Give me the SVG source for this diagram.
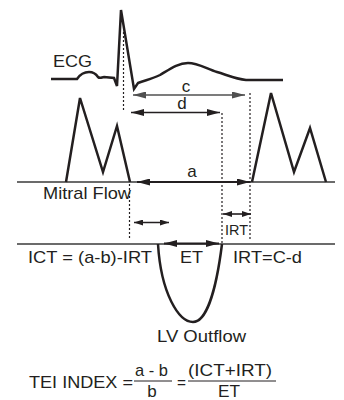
<svg xmlns="http://www.w3.org/2000/svg" width="344" height="400" viewBox="0 0 344 400">
<style>
text{font-family:"Liberation Sans",Arial,Helvetica,sans-serif;font-size:17px;fill:#231f20}
.wave{fill:none;stroke:#231f20;stroke-width:2.5;stroke-linejoin:miter}
.base{stroke:#3a3a3a;stroke-width:1.5}
.dot{stroke:#231f20;stroke-width:1.2;stroke-dasharray:2 2}
.arr{stroke:#231f20;stroke-width:1.6}
</style>
<defs>
<marker id="mb" markerUnits="userSpaceOnUse" markerWidth="13" markerHeight="7" refX="13" refY="3.5" orient="auto-start-reverse"><path d="M0,0 L13,3.5 L0,7 z" fill="#231f20"/></marker>
<marker id="mg" markerUnits="userSpaceOnUse" markerWidth="13" markerHeight="7" refX="13" refY="3.5" orient="auto-start-reverse"><path d="M0,0 L13,3.5 L0,7 z" fill="#505050"/></marker>
<marker id="ms" markerUnits="userSpaceOnUse" markerWidth="9" markerHeight="6" refX="9" refY="3" orient="auto-start-reverse"><path d="M0,0 L9,3 L0,6 z" fill="#231f20"/></marker>
</defs>

<g id="ecg">
<text x="53" y="67" textLength="39" lengthAdjust="spacingAndGlyphs">ECG</text>
<path class="wave" d="M51,79 L77,79 C81,73 85,72 89,72 C93,72 96,74 98,77 C100,79 102,77 104,77 L114,78 L117,86 L121,10 L134,89 L138,83 C146,80 152,79 160,75 C170,69 178,63 188,63 C198,63 207,69 217,72 C227,75 236,79 246,80 L283,80"/>
</g>

<g id="mitral-flow">
<line class="base" x1="17" y1="182" x2="335" y2="182"/>
<path class="wave" d="M66,182 L80,98 L103,172 L117,126 L130,182"/>
<path class="wave" d="M252,182 L271,93 L294,172 L310,128 L326,182"/>
<text x="43" y="199" textLength="88" lengthAdjust="spacingAndGlyphs">Mitral Flow</text>
</g>

<g id="lv-outflow">
<line class="base" x1="17" y1="244" x2="335" y2="244"/>
<path class="wave" d="M158,244 C161,294 179,322 193,322 C206,322 216,292 222,244"/>
<text x="157" y="342" textLength="89" lengthAdjust="spacingAndGlyphs">LV Outflow</text>
</g>

<g id="connectors">
<line class="dot" x1="123.5" y1="32" x2="123.5" y2="112"/>
<line class="dot" x1="129.5" y1="184" x2="129.5" y2="238"/>
<line class="dot" x1="222" y1="113" x2="222" y2="244"/>
<line class="dot" x1="250" y1="93" x2="250" y2="240"/>
<line stroke="#505050" stroke-width="1.6" x1="133" y1="95" x2="245" y2="95" marker-start="url(#mg)" marker-end="url(#mg)"/>
<line class="arr" x1="131" y1="112.5" x2="220" y2="112.5" marker-start="url(#mb)" marker-end="url(#mb)"/>
<line stroke="#231f20" stroke-width="2" x1="137" y1="182" x2="250" y2="182" marker-start="url(#mb)" marker-end="url(#mb)"/>
<line class="arr" x1="134" y1="222.5" x2="169" y2="222.5" marker-start="url(#ms)" marker-end="url(#ms)"/>
<line class="arr" x1="223" y1="214" x2="251" y2="214" marker-start="url(#ms)" marker-end="url(#ms)"/>
<line stroke="#231f20" stroke-width="2" x1="164" y1="243.5" x2="219" y2="243.5" marker-start="url(#mb)" marker-end="url(#mb)"/>
</g>

<g id="labels">
<text x="186" y="92" text-anchor="middle">c</text>
<text x="182" y="109" text-anchor="middle">d</text>
<text x="192" y="177" text-anchor="middle">a</text>
<text x="225" y="235" style="font-size:14px" textLength="23" lengthAdjust="spacingAndGlyphs">IRT</text>
<text x="28" y="263" textLength="124" lengthAdjust="spacingAndGlyphs">ICT = (a-b)-IRT</text>
<text x="180" y="263" textLength="23" lengthAdjust="spacingAndGlyphs">ET</text>
<text x="233" y="263" textLength="69" lengthAdjust="spacingAndGlyphs">IRT=C-d</text>
</g>

<g id="formula">
<text x="29" y="388" textLength="104" lengthAdjust="spacingAndGlyphs">TEI INDEX =</text>
<text x="135" y="376" textLength="33" lengthAdjust="spacingAndGlyphs">a - b</text>
<line stroke="#231f20" stroke-width="1" x1="134" y1="381" x2="172" y2="381"/>
<text x="152" y="397" text-anchor="middle">b</text>
<text x="177" y="388" textLength="9" lengthAdjust="spacingAndGlyphs">=</text>
<text x="188" y="376" textLength="84" lengthAdjust="spacingAndGlyphs">(ICT+IRT)</text>
<line stroke="#231f20" stroke-width="1" x1="188" y1="381" x2="276" y2="381"/>
<text x="218" y="397" textLength="22" lengthAdjust="spacingAndGlyphs">ET</text>
</g>
</svg>
